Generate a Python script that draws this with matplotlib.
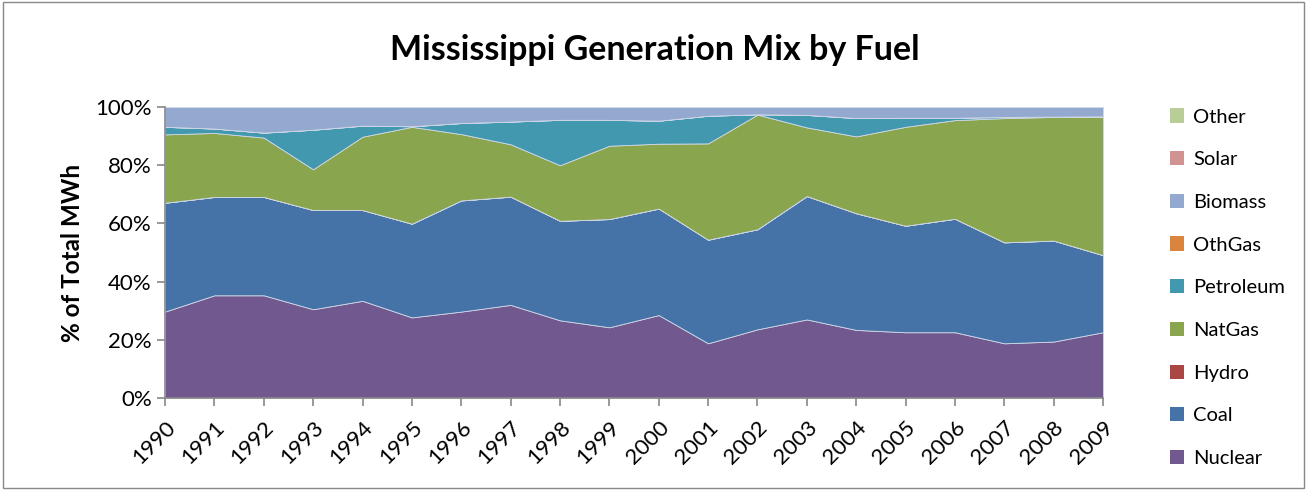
import numpy as np
import matplotlib.pyplot as plt
from matplotlib.patches import Patch, Rectangle

plt.rcParams['font.family'] = ['Lato', 'DejaVu Sans']

years = list(range(1990, 2010))
# share of total MWh (%)
nuclear = [29.7, 35.3, 35.3, 30.5, 33.4, 27.7, 29.7, 32.0, 26.7, 24.3,
           28.5, 18.8, 23.6, 27.0, 23.4, 22.6, 22.6, 18.8, 19.4, 22.6]
coal = [37.4, 33.8, 33.8, 34.1, 31.2, 32.2, 38.2, 37.2, 34.2, 37.2,
        36.6, 35.6, 34.4, 42.4, 40.1, 36.6, 39.0, 34.7, 34.7, 26.5]
hydro = [0.0] * 20
natgas = [23.5, 22.0, 20.4, 14.0, 25.2, 33.3, 22.8, 18.0, 19.1, 25.2,
          22.3, 33.1, 39.4, 23.6, 26.4, 34.0, 33.9, 42.7, 42.5, 47.6]
petroleum = [2.6, 1.5, 1.7, 13.6, 3.8, 0.2, 3.8, 7.8, 15.6, 8.9,
             7.9, 9.5, 0.1, 4.3, 6.3, 3.1, 0.8, 0.4, 0.1, 0.1]
othgas = [0.0] * 20
biomass = [6.8, 7.4, 8.8, 7.8, 6.4, 6.6, 5.5, 5.0, 4.4, 4.4,
           4.7, 3.0, 2.5, 2.7, 3.8, 3.7, 3.7, 3.4, 3.3, 3.2]
solar = [0.0] * 20
other = [0.0] * 20

names = ['Nuclear', 'Coal', 'Hydro', 'NatGas', 'Petroleum', 'OthGas', 'Biomass', 'Solar', 'Other']
colors = ['#71588F', '#4572A7', '#AA4643', '#89A54E', '#4198AF', '#DB843D', '#93A9CF', '#D19392', '#B9CD96']

fig = plt.figure(figsize=(13.15, 4.91), dpi=100)
ax = fig.add_axes([0.1255, 0.1894, 0.7133, 0.5926])

ax.stackplot(years, nuclear, coal, hydro, natgas, petroleum, othgas, biomass, solar, other,
             colors=colors, edgecolor='#d0d8e8', linewidth=0.6)

ax.set_xlim(1990, 2009)
ax.set_ylim(0, 100)
ax.set_yticks(range(0, 101, 20))
ax.set_yticklabels([f'{v}%' for v in range(0, 101, 20)], fontsize=16)
ax.set_xticks(years)
ax.set_xticklabels([str(y) for y in years], rotation=45, fontsize=16,
                   ha='right', rotation_mode='anchor')
ax.tick_params(axis='x', pad=8)
ax.set_ylabel('% of Total MWh', fontsize=17.5, fontweight='bold', labelpad=8)
for s in ['top', 'right']:
    ax.spines[s].set_visible(False)
for s in ['left', 'bottom']:
    ax.spines[s].set_color('#888888')
    ax.spines[s].set_linewidth(1.2)
ax.tick_params(color='#888888', length=6, width=1.2)

fig.text(0.498, 0.898, 'Mississippi Generation Mix by Fuel', ha='center', va='center',
         fontsize=24.5, fontweight='bold')

handles = [Patch(facecolor=c, label=n) for n, c in zip(names, colors)][::-1]
fig.legend(handles=handles, loc='upper left', bbox_to_anchor=(0.876, 0.816),
           frameon=False, fontsize=14.5, handlelength=0.7, handleheight=0.7,
           handletextpad=0.45, labelspacing=1.27)

fig.patches.append(Rectangle((0.002, 0.006), 0.99, 0.99, transform=fig.transFigure,
                             fill=False, edgecolor='#888888', linewidth=1.0))

fig.savefig('out.png', dpi=100)
